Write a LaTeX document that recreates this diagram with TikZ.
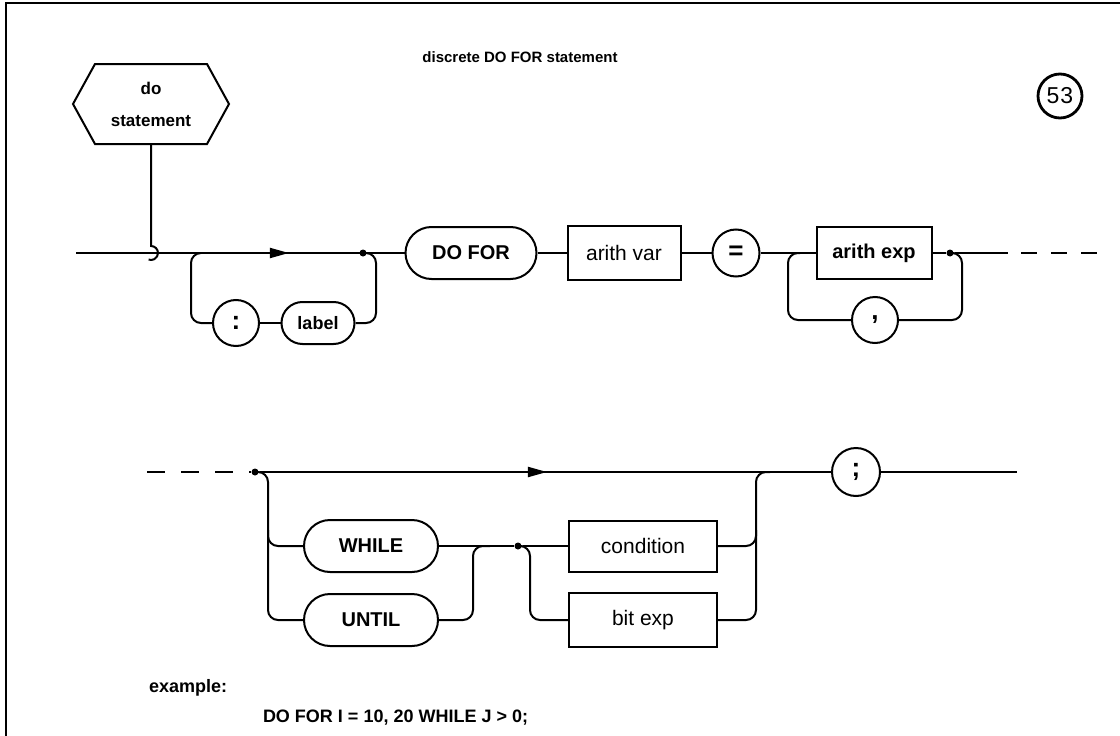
\documentclass[tikz,border=0pt]{standalone}
\usepackage{fontspec}
\setmainfont{Liberation Sans}
\usetikzlibrary{decorations.markings,arrows.meta,calc}
\begin{document}
\begin{tikzpicture}[x=1pt,y=-1pt,line width=2pt,
  kw/.style={draw,rectangle,rounded corners=26pt,minimum height=52pt,inner sep=0pt,font=\bfseries\fontsize{20}{24}\selectfont},
  ntbox/.style={draw,rectangle,minimum height=52pt,inner sep=0pt,font=\fontsize{21}{25}\selectfont},
  symc/.style={draw,circle,minimum size=47pt,inner sep=0pt,font=\bfseries\fontsize{26}{30}\selectfont},
  jdot/.style={fill,circle,minimum size=7pt,inner sep=0pt},
  midarrow/.style={postaction={decorate},decoration={markings,mark=at position #1 with {\arrow{Triangle[length=19pt,width=10pt]}}}},
  rc/.style={rounded corners=10pt},
  txt/.style={inner sep=0pt}]
\useasboundingbox (0,0) rectangle (1120,736);
\fill[white] (0,0) rectangle (1120,736);
% frame
\draw[line width=2.4pt] (6,736) -- (6,3) -- (1120,3);
% title and page number
\node[txt,font=\bfseries\fontsize{15}{18}\selectfont] (title) at (520,57) {discrete DO FOR statement};
\node[draw,circle,line width=2.8pt,minimum size=44pt,inner sep=0pt,font=\fontsize{23}{26}\selectfont] (pg) at (1060,96) {5\hspace{1pt}3};
% entry hexagon
\node[minimum width=154pt,minimum height=78pt,inner sep=0pt,align=center,font=\bfseries\fontsize{17}{20}\selectfont] (dostmt) at (151,104) {do\\[12pt]statement};
\draw (dostmt.west) -- ($(dostmt.north west)+(22,0)$) -- ($(dostmt.north east)+(-22,0)$) -- (dostmt.east) -- ($(dostmt.south east)+(-22,0)$) -- ($(dostmt.south west)+(22,0)$) -- cycle;
% top row
\coordinate (s1) at (76,253);
\coordinate (hk) at (151,253);
\node[kw,minimum width=131pt] (dofor) at (471,253) {DO FOR};
\node[ntbox,minimum width=113pt,minimum height=54pt] (avar) at (624,253) {arith var};
\node[symc] (eq) at (736,253) {=};
\node[ntbox,font=\bfseries\fontsize{20}{24}\selectfont,minimum width=115pt] (aexp) at (874,253) {arith exp};
\node[symc,minimum size=46pt] (colon) at (236,323) {:};
\node[kw,minimum width=73pt,minimum height=42pt,rounded corners=21pt,font=\bfseries\fontsize{18}{22}\selectfont] (lbl) at (318,323) {label};
\node[symc,minimum size=46pt] (comma) at (875,320) {,};
\node[jdot] (j1) at (363,253) {};
\node[jdot] (j2) at (950,253) {};
\coordinate (te) at (1008,253);
\coordinate (d1) at (1021,253);
\coordinate (d2) at (1097,253);
\draw[midarrow=0.648] (s1) -- (dofor.west);
\draw (dostmt.south) -- ($(hk)+(0,-7)$) arc[start angle=-90,end angle=110,radius=7];
\draw[rc] (201,253) -- (191,253) -- (191,323) -- (colon.west);
\draw (colon) -- (lbl);
\draw[rc] (lbl.east) -- (376,323) -- (376,253) -- (j1);
\draw (dofor) -- (avar);
\draw (avar) -- (eq);
\draw (eq) -- (aexp);
\draw (aexp) -- (j2);
\draw[rc] (800,253) -- (788,253) -- (788,320) -- (comma.west);
\draw[rc] (comma.east) -- (962,320) -- (962,253) -- (j2);
\draw (j2) -- (te);
\draw[dash pattern=on 16pt off 14pt] (d1) -- (d2);
% bottom row
\coordinate (b0) at (147,472);
\node[jdot] (j3) at (255,472) {};
\node[symc,minimum size=48pt] (semi) at (856,472) {;};
\coordinate (be) at (1017,472);
\node[kw,minimum width=134pt] (wh) at (371,546) {WHILE};
\node[kw,minimum width=134pt] (un) at (371,620) {UNTIL};
\node[jdot] (j4) at (518,546) {};
\node[ntbox,minimum width=148pt,minimum height=51pt] (cond) at (643,546) {condition};
\node[ntbox,minimum width=148pt,minimum height=54pt] (bexp) at (643,620) {bit exp};
\draw[dash pattern=on 18pt off 16pt] (b0) -- (j3);
\draw[midarrow=0.503] (j3) -- (semi.west);
\draw (semi) -- (be);
\draw[rc] (j3) -- (268,472) -- (268,546) -- (wh.west);
\draw[rc] (268,530) -- (268,620) -- (un.west);
\draw (wh) -- (j4);
\draw[rc] (un.east) -- (473,620) -- (473,546) -- (490,546);
\draw (j4) -- (cond);
\draw[rc] (j4) -- (530,546) -- (530,620) -- (bexp.west);
\draw[rc] (cond.east) -- (756,546) -- (756,472) -- (770,472);
\draw[rc] (bexp.east) -- (756,620) -- (756,530);
% example
\node[txt,anchor=west,font=\bfseries\fontsize{18}{22}\selectfont] (exl) at (148,688) {example:};
\node[txt,anchor=west,font=\bfseries\fontsize{18}{22}\selectfont] (ex) at (262,718) {DO FOR I = 10, 20 WHILE J > 0;};
\end{tikzpicture}
\end{document}
